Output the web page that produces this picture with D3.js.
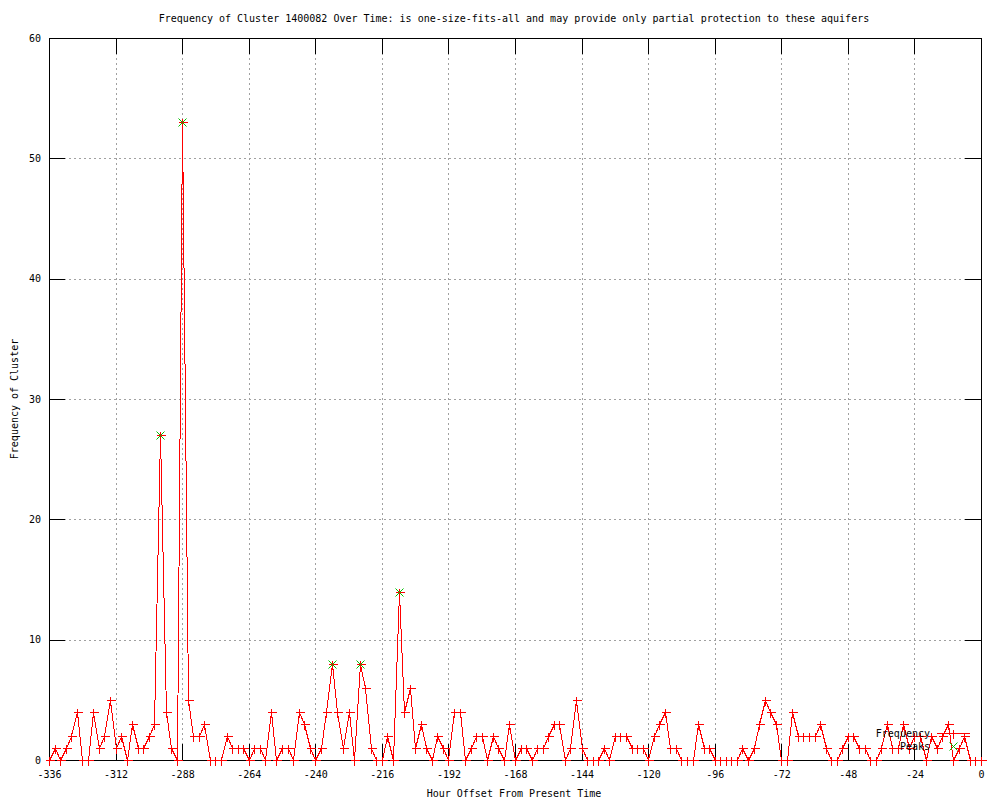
<!DOCTYPE html>
<html>
<head>
<meta charset="utf-8">
<script src="https://cdn.jsdelivr.net/npm/d3@7"></script>
<style>
  body { margin: 0; background: #fff; }
  svg text { font-family: "DejaVu Sans Mono", monospace; font-size: 10px; fill: #000; }
</style>
</head>
<body>
<svg width="1000" height="800"></svg>
<script>
// hour offsets, every 2 hours from -336 to 0
var hours = d3.range(-336, 1, 2);

// frequency per 2-hour slot
var freq = [0, 1, 0, 1, 2, 4, 0, 0, 4, 1, 2, 5, 1, 2, 0, 3, 1, 1, 2, 3,
            27, 4, 1, 0, 53, 5, 2, 2, 3, 0, 0, 0, 2, 1, 1, 1, 0, 1, 1, 0,
            4, 0, 1, 1, 0, 4, 3, 1, 0, 1, 4, 8, 4, 1, 4, 0, 8, 6, 1, 0,
            0, 2, 0, 14, 4, 6, 1, 3, 1, 0, 2, 1, 0, 4, 4, 0, 1, 2, 2, 0,
            2, 1, 0, 3, 0, 1, 1, 0, 1, 1, 2, 3, 3, 0, 1, 5, 1, 0, 0, 0,
            1, 0, 2, 2, 2, 1, 1, 1, 0, 2, 3, 4, 1, 1, 0, 0, 0, 3, 1, 1,
            0, 0, 0, 0, 0, 1, 0, 1, 3, 5, 4, 3, 0, 0, 4, 2, 2, 2, 2, 3,
            1, 0, 0, 1, 2, 2, 1, 1, 0, 0, 1, 3, 1, 1, 3, 1, 2, 2, 0, 2,
            1, 2, 3, 0, 1, 2, 0, 0, 0];

// detected peaks
var peakHours = [-296, -288, -234, -224, -210];
var peakValues = [27, 53, 8, 8, 14];

var xTicks = d3.range(-336, 1, 24);
var yTicks = d3.range(0, 61, 10);

var titleText = "Frequency of Cluster 1400082 Over Time: is one-size-fits-all and may provide only partial protection to these aquifers";

// plot box (note: "top" is reserved on window, so use other names)
var plotL = 49, plotR = 981, plotT = 38, plotB = 760;

var svg = d3.select("svg");

var x = d3.scaleLinear().domain([-336, 0]).range([plotL, plotR]);
var y = d3.scaleLinear().domain([0, 60]).range([plotB, plotT]);

// snap to pixel centre so the 1px marks stay sharp
var px = function(v) { return Math.round(v) + 0.5; };

// grid (dotted grey)
var grid = svg.append("g");
grid.selectAll("line.gx")
  .data(xTicks.slice(1, -1))
  .enter().append("line")
  .attr("x1", function(d) { return px(x(d)); })
  .attr("x2", function(d) { return px(x(d)); })
  .attr("y1", plotT).attr("y2", plotB);
grid.selectAll("line.gy")
  .data(yTicks.slice(1, -1))
  .enter().append("line")
  .attr("y1", function(d) { return px(y(d)); })
  .attr("y2", function(d) { return px(y(d)); })
  .attr("x1", plotL).attr("x2", plotR);
grid.selectAll("line")
  .attr("stroke", "#a0a0a0")
  .attr("stroke-width", 1)
  .attr("stroke-dasharray", "2,3");

// axes with inward ticks, mirrored on top and right
var tickLen = 16;
var fmt = function(d) { return String(d); };
svg.append("g")
  .attr("transform", "translate(0," + plotB + ")")
  .call(d3.axisBottom(x).tickValues(xTicks).tickSize(-tickLen).tickPadding(11).tickFormat(fmt));
svg.append("g")
  .attr("transform", "translate(" + plotL + ",0)")
  .call(d3.axisLeft(y).tickValues(yTicks).tickSize(-tickLen).tickPadding(8).tickFormat(fmt));
svg.append("g")
  .attr("transform", "translate(0," + plotT + ")")
  .call(d3.axisTop(x).tickValues(xTicks).tickSize(-tickLen).tickFormat(""));
svg.append("g")
  .attr("transform", "translate(" + plotR + ",0)")
  .call(d3.axisRight(y).tickValues(yTicks).tickSize(-tickLen).tickFormat(""));

svg.selectAll(".domain").remove();
svg.selectAll(".tick line").attr("stroke", "#000").attr("shape-rendering", "crispEdges");
svg.selectAll(".tick text").attr("font-family", null).attr("font-size", null);

// border
svg.append("rect")
  .attr("x", plotL + 0.5).attr("y", plotT + 0.5)
  .attr("width", plotR - plotL).attr("height", plotB - plotT)
  .attr("fill", "none").attr("stroke", "#000")
  .attr("shape-rendering", "crispEdges");

// frequency line
var line = d3.line()
  .x(function(d, i) { return px(x(hours[i])); })
  .y(function(d) { return px(y(d)); });

svg.append("path")
  .datum(freq)
  .attr("d", line)
  .attr("fill", "none")
  .attr("stroke", "#ff0000")
  .attr("stroke-width", 1)
  .attr("shape-rendering", "crispEdges");

var plusPath = "M-4,0H5M0,-4V5";
var crossPath = "M-4,-4L4,4M-4,4L4,-4";

svg.append("g").selectAll("path")
  .data(freq)
  .enter().append("path")
  .attr("transform", function(d, i) { return "translate(" + px(x(hours[i])) + "," + px(y(d)) + ")"; })
  .attr("d", plusPath)
  .attr("stroke", "#ff0000")
  .attr("stroke-width", 1)
  .attr("shape-rendering", "crispEdges");

svg.append("g").selectAll("path")
  .data(peakValues)
  .enter().append("path")
  .attr("transform", function(d, i) { return "translate(" + px(x(peakHours[i])) + "," + px(y(d)) + ")"; })
  .attr("d", crossPath)
  .attr("stroke", "#00c000")
  .attr("stroke-width", 1);

// legend
var lx = 930, ly1 = 733, ly2 = 746;
svg.append("text").attr("x", lx).attr("y", ly1).attr("dy", "0.35em")
  .attr("text-anchor", "end").text("Frequency");
svg.append("line").attr("x1", 937).attr("x2", 970).attr("y1", ly1 + 0.5).attr("y2", ly1 + 0.5)
  .attr("stroke", "#ff0000").attr("shape-rendering", "crispEdges");
svg.append("path").attr("transform", "translate(953.5," + (ly1 + 0.5) + ")")
  .attr("d", plusPath).attr("stroke", "#ff0000").attr("shape-rendering", "crispEdges");
svg.append("text").attr("x", lx).attr("y", ly2).attr("dy", "0.35em")
  .attr("text-anchor", "end").text("Peaks");
svg.append("path").attr("transform", "translate(953.5," + (ly2 + 0.5) + ")")
  .attr("d", crossPath).attr("stroke", "#00c000");

// titles
svg.append("text")
  .attr("x", 514).attr("y", 18).attr("dy", "0.35em")
  .attr("text-anchor", "middle")
  .text(titleText);
svg.append("text")
  .attr("x", 514).attr("y", 793).attr("dy", "0.35em")
  .attr("text-anchor", "middle")
  .text("Hour Offset From Present Time");
svg.append("text")
  .attr("transform", "translate(14," + (plotT + plotB) / 2 + ") rotate(-90)")
  .attr("dy", "0.35em")
  .attr("text-anchor", "middle")
  .text("Frequency of Cluster");
</script>
</body>
</html>
